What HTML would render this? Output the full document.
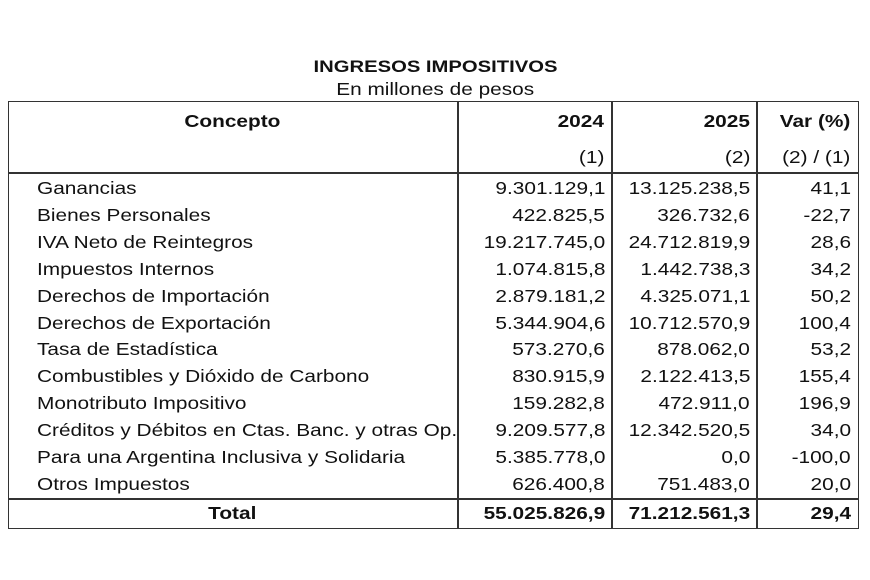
<!DOCTYPE html>
<html><head><meta charset="utf-8"><style>
body{margin:0;background:#fff;width:870px;height:580px;position:relative;font-family:"Liberation Sans",Arial,sans-serif;color:#111;overflow:hidden}
.a{position:absolute;white-space:nowrap;font-size:17.5px;line-height:20px}
.a span{display:inline-block;transform:scaleX(1.19);transform-origin:left center}
.r span{transform-origin:right center}
.c{text-align:center}
.c span{transform-origin:center center}
.b{font-weight:bold}
.l{position:absolute;background:#333}
.r{text-align:right}
</style></head><body>
<div class="a b c" style="left:0;width:870px;top:57px;font-size:17px"><span>INGRESOS IMPOSITIVOS</span></div>
<div class="a c" style="left:0;width:870px;top:79px"><span>En millones de pesos</span></div>
<div style="position:absolute;left:8px;top:101px;width:849px;height:426px;border:1.5px solid #333"></div>
<div class="l" style="left:8px;top:172px;width:851px;height:1.5px"></div>
<div class="l" style="left:8px;top:498px;width:851px;height:1.5px"></div>
<div class="l" style="left:457px;top:101px;width:1.5px;height:428px"></div>
<div class="l" style="left:611px;top:101px;width:1.5px;height:428px"></div>
<div class="l" style="left:756px;top:101px;width:1.5px;height:428px"></div>
<div class="a b c" style="left:8px;width:449px;top:111px"><span>Concepto</span></div>
<div class="a b r" style="left:460px;width:144px;top:111px"><span>2024</span></div>
<div class="a b r" style="left:614px;width:136px;top:111px"><span>2025</span></div>
<div class="a b r" style="left:758px;width:92px;top:111px"><span>Var (%)</span></div>
<div class="a r" style="left:460px;width:144px;top:147px"><span>(1)</span></div>
<div class="a r" style="left:614px;width:136px;top:147px"><span>(2)</span></div>
<div class="a r" style="left:758px;width:92px;top:147px"><span>(2) / (1)</span></div>
<div id="rows"></div>
<script>
var d=[["Ganancias","9.301.129,1","13.125.238,5","41,1"],["Bienes Personales","422.825,5","326.732,6","-22,7"],["IVA Neto de Reintegros","19.217.745,0","24.712.819,9","28,6"],["Impuestos Internos","1.074.815,8","1.442.738,3","34,2"],["Derechos de Importación","2.879.181,2","4.325.071,1","50,2"],["Derechos de Exportación","5.344.904,6","10.712.570,9","100,4"],["Tasa de Estadística","573.270,6","878.062,0","53,2"],["Combustibles y Dióxido de Carbono","830.915,9","2.122.413,5","155,4"],["Monotributo Impositivo","159.282,8","472.911,0","196,9"],["Créditos y Débitos en Ctas. Banc. y otras Op.","9.209.577,8","12.342.520,5","34,0"],["Para una Argentina Inclusiva y Solidaria","5.385.778,0","0,0","-100,0"],["Otros Impuestos","626.400,8","751.483,0","20,0"]];
var h="";d.forEach(function(r,i){var t=178+i*26.9;
h+='<div class="a" style="left:37px;top:'+t+'px"><span>'+r[0]+'</span></div><div class="a r" style="left:460px;width:145px;top:'+t+'px"><span>'+r[1]+'</span></div><div class="a r" style="left:614px;width:136px;top:'+t+'px"><span>'+r[2]+'</span></div><div class="a r" style="left:758px;width:93px;top:'+t+'px"><span>'+r[3]+'</span></div>';});
h+='<div class="a b c" style="left:8px;width:449px;top:503px"><span>Total</span></div><div class="a b r" style="left:460px;width:145px;top:503px"><span>55.025.826,9</span></div><div class="a b r" style="left:614px;width:136px;top:503px"><span>71.212.561,3</span></div><div class="a b r" style="left:758px;width:93px;top:503px"><span>29,4</span></div>';
document.getElementById("rows").innerHTML=h;
</script>
</body></html>
